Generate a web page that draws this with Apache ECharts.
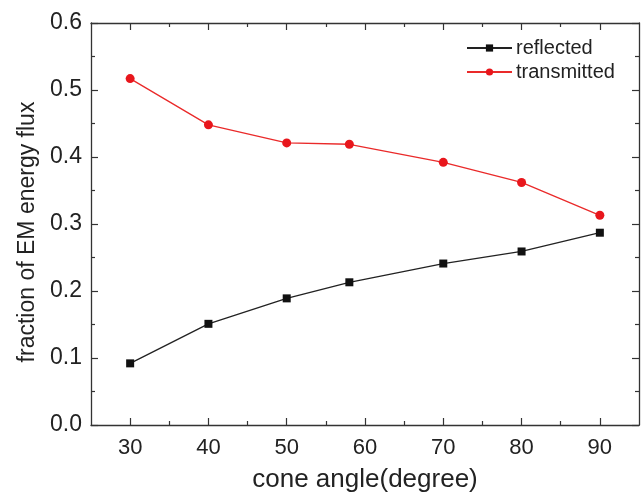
<!DOCTYPE html>
<html>
<head>
<meta charset="utf-8">
<script src="https://cdn.jsdelivr.net/npm/echarts@6/dist/echarts.min.js"></script>
<style>html,body{margin:0;padding:0;background:#fff;}#c{width:644px;height:493px;}</style>
</head>
<body>
<div id="c"></div>
<script>
var coneAngles = [30, 40, 50, 58, 70, 80, 90];
var reflected = [0.092, 0.151, 0.189, 0.213, 0.241, 0.259, 0.287];
var transmitted = [0.517, 0.448, 0.421, 0.419, 0.392, 0.362, 0.313];
var xMajorTicks = [30, 40, 50, 60, 70, 80, 90];
var xMinorTicks = [35, 45, 55, 65, 75, 85];
var seriesNames = ['reflected', 'transmitted'];

var FONT = '"Liberation Sans", Arial, sans-serif';
var AX = '#333';
var chart = echarts.init(document.getElementById('c'), null, {renderer: 'canvas'});

function xAx(pos, ticks, len, labels, line) {
  return {
    type: 'value', position: pos, min: 25, max: 95, interval: 5,
    axisLine: {show: line, onZero: false, lineStyle: {color: AX, width: 1.3}},
    axisTick: {show: true, inside: true, length: len, customValues: ticks, lineStyle: {color: AX, width: 1.2}},
    axisLabel: labels ? {show: true, customValues: xMajorTicks, color: '#222', fontFamily: FONT, fontSize: 22, margin: 12} : {show: false},
    splitLine: {show: false}
  };
}

var option = {
  animation: false,
  backgroundColor: '#fff',
  grid: {left: 91, right: 5, top: 23, bottom: 68, containLabel: false, outerBoundsMode: 'none'},
  legend: {
    orient: 'vertical', left: 461, top: 33, itemWidth: 45, itemHeight: 9, itemGap: 4,
    textStyle: {fontFamily: FONT, fontSize: 20, color: '#222', padding: [0, 0, 0, -1]},
    data: seriesNames
  },
  xAxis: [
    Object.assign(xAx('bottom', xMajorTicks, 7, true, true), {
      name: 'cone angle(degree)', nameLocation: 'middle', nameGap: 42,
      nameTextStyle: {fontFamily: FONT, fontSize: 26, color: '#222'}
    }),
    xAx('bottom', xMinorTicks, 4, false, false),
    xAx('top', xMajorTicks, 7, false, true),
    xAx('top', xMinorTicks, 4, false, false)
  ],
  yAxis: [
    {
      type: 'value', position: 'left', min: 0, max: 0.6, interval: 0.1,
      name: 'fraction of EM energy flux', nameLocation: 'middle', nameGap: 52,
      nameTextStyle: {fontFamily: FONT, fontSize: 23, color: '#222', padding: [0, 16, 0, 0]},
      axisLine: {show: true, onZero: false, lineStyle: {color: AX, width: 1.3}},
      axisTick: {show: true, inside: true, length: 7, lineStyle: {color: AX, width: 1.2}},
      minorTick: {show: true, splitNumber: 2, length: 4, lineStyle: {color: AX, width: 1.2}},
      axisLabel: {color: '#222', fontFamily: FONT, fontSize: 23, margin: 9, formatter: function (v) { return v.toFixed(1); }},
      splitLine: {show: false}
    },
    {
      type: 'value', position: 'right', min: 0, max: 0.6, interval: 0.1,
      axisLine: {show: true, onZero: false, lineStyle: {color: AX, width: 1.3}},
      axisTick: {show: true, inside: true, length: 7, lineStyle: {color: AX, width: 1.2}},
      minorTick: {show: true, splitNumber: 2, length: 4, lineStyle: {color: AX, width: 1.2}},
      axisLabel: {show: false},
      splitLine: {show: false}
    }
  ],
  series: [
    {
      name: seriesNames[0], type: 'line', xAxisIndex: 0, yAxisIndex: 0,
      data: coneAngles.map(function (x, i) { return [x, reflected[i]]; }),
      symbol: 'rect', symbolSize: 8,
      lineStyle: {color: '#222', width: 1.3},
      itemStyle: {color: '#111'}
    },
    {
      name: seriesNames[1], type: 'line', xAxisIndex: 0, yAxisIndex: 0,
      data: coneAngles.map(function (x, i) { return [x, transmitted[i]]; }),
      symbol: 'circle', symbolSize: 9,
      lineStyle: {color: '#ea2a2a', width: 1.3},
      itemStyle: {color: '#e8161c'}
    }
  ]
};
chart.setOption(option);
</script>
</body>
</html>
